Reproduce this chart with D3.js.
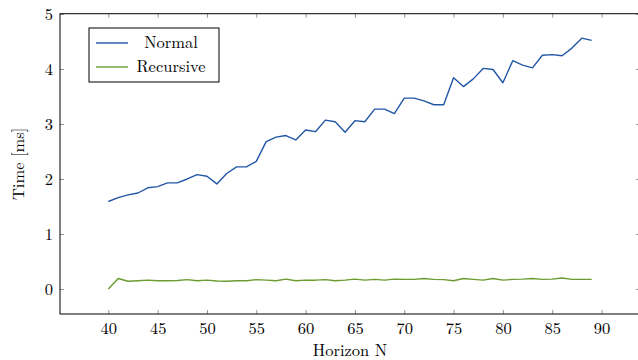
<!DOCTYPE html>
<html>
<head>
<meta charset="utf-8">
<script src="https://cdn.jsdelivr.net/npm/d3@7"></script>
<style>
  body { margin: 0; background: #fff; }
</style>
</head>
<body>
<div id="chart"></div>
<script>
// Horizon values (x axis)
const horizon = d3.range(40, 90);

// Time in ms for each horizon
const normalTimes = [
  1.59, 1.66, 1.71, 1.745, 1.84, 1.86, 1.93, 1.93, 2.00, 2.08,
  2.05, 1.91, 2.10, 2.22, 2.22, 2.32, 2.68, 2.76, 2.79, 2.71,
  2.89, 2.86, 3.07, 3.04, 2.85, 3.06, 3.04, 3.27, 3.27, 3.19,
  3.47, 3.47, 3.42, 3.35, 3.35, 3.84, 3.68, 3.82, 4.01, 3.99,
  3.75, 4.15, 4.07, 4.02, 4.25, 4.26, 4.24, 4.38, 4.56, 4.52
];
const recursiveTimes = [
  0.00, 0.19, 0.14, 0.15, 0.16, 0.15, 0.15, 0.155, 0.17, 0.15,
  0.16, 0.145, 0.14, 0.15, 0.15, 0.17, 0.16, 0.15, 0.18, 0.15,
  0.16, 0.16, 0.17, 0.15, 0.16, 0.18, 0.16, 0.175, 0.16, 0.18,
  0.175, 0.175, 0.19, 0.175, 0.17, 0.15, 0.19, 0.175, 0.16, 0.19,
  0.16, 0.175, 0.18, 0.19, 0.175, 0.18, 0.20, 0.175, 0.175, 0.175
];

const seriesNames = ['Normal', 'Recursive'];
const seriesColors = ['#2256a6', '#6a9c30'];
const xTicks = [40, 45, 50, 55, 60, 65, 70, 75, 80, 85, 90];
const yTicks = [0, 1, 2, 3, 4, 5];

// LaTeX look
const FONT = '"Latin Modern Roman"';
const FS = '16.5px';

const width = 638, height = 360;
const margin = { top: 13.7, right: -2, bottom: 46, left: 60 };
const innerW = width - margin.left - margin.right;
const innerH = height - margin.top - margin.bottom;

const svg = d3.select('#chart').append('svg')
  .attr('width', width)
  .attr('height', height);

const chart = svg.append('g')
  .attr('transform', `translate(${margin.left},${margin.top})`);

// pgfplots-like enlarged limits
const xScale = d3.scaleLinear().domain([35.1, 93.9]).range([0, innerW]);
const yScale = d3.scaleLinear().domain([-0.455, 5.005]).range([innerH, 0]);

// Ticks (inside, on all four sides)
const tickLen = 4;
const xAxisB = d3.axisBottom(xScale).tickValues(xTicks).tickSize(-tickLen).tickPadding(8).tickFormat(d3.format('d'));
const xAxisT = d3.axisTop(xScale).tickValues(xTicks).tickSize(-tickLen).tickFormat('');
const yAxisL = d3.axisLeft(yScale).tickValues(yTicks).tickSize(-tickLen).tickPadding(7).tickFormat(d3.format('d'));
const yAxisR = d3.axisRight(yScale).tickValues(yTicks).tickSize(-tickLen).tickFormat('');

const gB = chart.append('g').attr('transform', `translate(0,${innerH})`).call(xAxisB);
const gT = chart.append('g').call(xAxisT);
const gL = chart.append('g').call(yAxisL);
const gR = chart.append('g').attr('transform', `translate(${innerW},0)`).call(yAxisR);

[gB, gT, gL, gR].forEach(g => {
  g.select('.domain').remove();
  g.selectAll('.tick line').attr('stroke', '#777').attr('stroke-width', 0.8);
  g.selectAll('.tick text')
    .style('font-family', FONT)
    .style('font-size', FS)
    .attr('fill', '#000');
});

// Lines
const line = d3.line()
  .x((d, i) => xScale(horizon[i]))
  .y(d => yScale(d));

[normalTimes, recursiveTimes].forEach((vals, k) => {
  chart.append('path')
    .datum(vals)
    .attr('fill', 'none')
    .attr('stroke', seriesColors[k])
    .attr('stroke-width', 1.4)
    .attr('stroke-linejoin', 'round')
    .attr('d', line);
});

// Axis box
chart.append('rect')
  .attr('x', 0).attr('y', 0)
  .attr('width', innerW).attr('height', innerH)
  .attr('fill', 'none')
  .attr('stroke', '#000')
  .attr('stroke-width', 1);

// Axis titles
svg.append('text')
  .attr('x', margin.left + innerW / 2)
  .attr('y', 356)
  .attr('text-anchor', 'middle')
  .style('font-family', FONT)
  .style('font-size', FS)
  .text('Horizon N');

svg.append('text')
  .attr('transform', `translate(24,${margin.top + innerH / 2}) rotate(-90)`)
  .attr('text-anchor', 'middle')
  .style('font-family', FONT)
  .style('font-size', FS)
  .text('Time [ms]');

// Legend
const legend = svg.append('g').attr('transform', 'translate(89,28)');
legend.append('rect')
  .attr('width', 130).attr('height', 54)
  .attr('fill', '#fff').attr('stroke', '#000').attr('stroke-width', 1);

seriesNames.forEach((name, k) => {
  const ly = 15 + k * 24;
  legend.append('line')
    .attr('x1', 7).attr('x2', 39)
    .attr('y1', ly).attr('y2', ly)
    .attr('stroke', seriesColors[k]).attr('stroke-width', 1.4);
  legend.append('text')
    .attr('x', 82).attr('y', ly + 5)
    .attr('text-anchor', 'middle')
    .style('font-family', FONT)
    .style('font-size', FS)
    .text(name);
});
</script>
</body>
</html>
